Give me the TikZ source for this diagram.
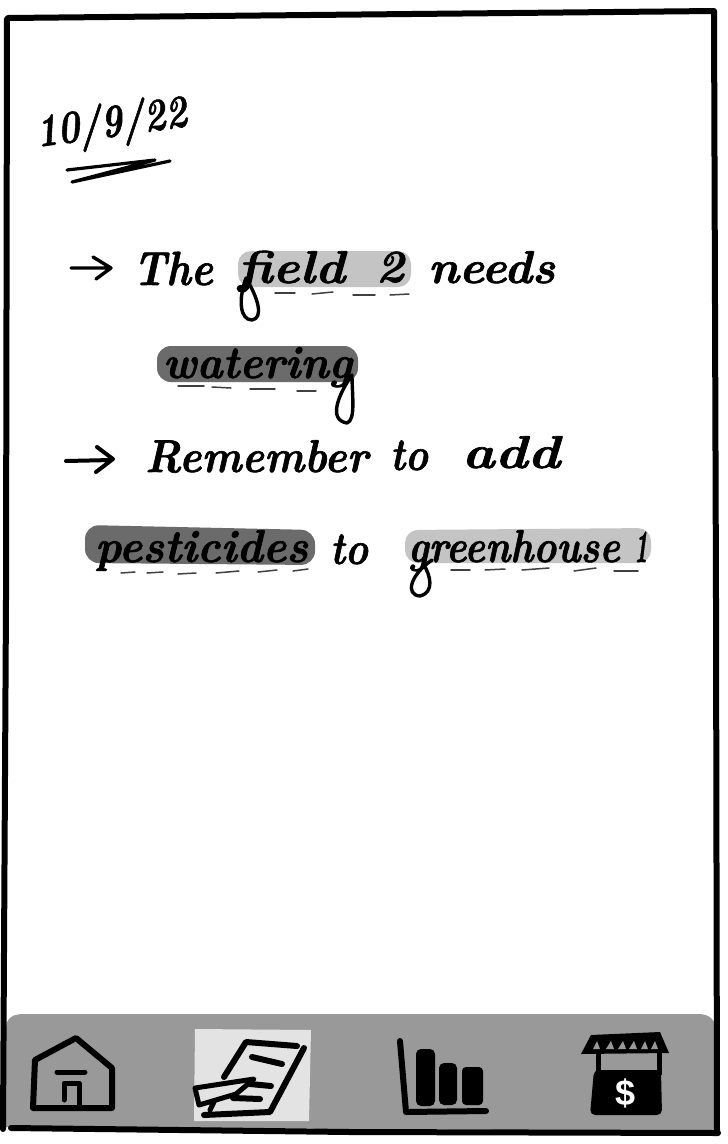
\documentclass[tikz,border=0pt]{standalone}
\usepackage{graphicx}
\usepackage{fontspec}
\newfontfamily\dollarfont{Liberation Sans}
\newsavebox\hwbox
\newcommand\hw[3]{\sbox\hwbox{\fontsize{10pt}{12pt}\selectfont\bfseries\itshape #3}\pgfmathsetmacro\hwr{#1/\the\wd\hwbox}\scalebox{\hwr}[#2]{\special{pdf:code 2 Tr 0.14 w 0 G}\usebox\hwbox\special{pdf:code 0 Tr 0.4 w}}}
\tikzset{
  x=1pt,y=-1pt,
  frameline/.style={line width=6pt,line cap=round,line join=round,black},
  pen/.style={line width=3.4pt,line cap=round,line join=round,black},
  thinpen/.style={line width=1.5pt,line cap=round,black!75},
  iconline/.style={line width=6pt,line cap=round,line join=round,black},
  word/.style={anchor=base west,inner sep=0pt,outer sep=0pt},
  lighthl/.style={fill=black!23,draw=none,rounded corners=13pt},
  darkhl/.style={fill=black!58,draw=none,rounded corners=14pt}
}
\begin{document}
\begin{tikzpicture}
\useasboundingbox (0,0) rectangle (728,1144);
\fill[white] (0,0) rectangle (728,1144);
% nav bar
\fill[black!40] (6,1030) .. controls (6,1018) and (12,1014) .. (24,1014) -- (698,1014) .. controls (710,1014) and (716,1020) .. (716,1032) -- (717,1131) -- (6,1127) -- cycle;
\fill[black!11] (195,1029) -- (311,1030) -- (309,1121) -- (194,1121) -- cycle;
% frame
\draw[frameline] (7,19) -- (6,600) -- (3,1129);
\draw[frameline] (8,18) -- (714,11) -- (716,600) -- (717,1133);
\draw[frameline] (11,1128) -- (350,1132) -- (718,1133);
% date
\node[word,rotate=8] (date) at (38,147) {\hw{152}{4.6}{10/9/22}};
\draw[pen,line width=3.2pt] (67,170) -- (155,160) -- (72,182) -- (170,161);
% highlights
\fill[lighthl] (238,251) rectangle (411,287);
\fill[darkhl] (157,346) rectangle (358,382);
\fill[darkhl] (85,525) -- (315,530) -- (315,565) -- (85,563) -- cycle;
\fill[lighthl] (405,530) -- (651,528) -- (651,563) -- (405,563) -- cycle;
% line 1
\draw[pen] (71,268) -- (111,268) (93,257) -- (111,268) -- (96,279);
\node[word] (the) at (133,285) {\hw{80}{4.8}{The}};
\node[word] (field) at (238,283) {\hw{107}{4.6}{field}};
\node[word] (two) at (376,282) {\hw{28}{4.6}{2}};
\node[word] (needs) at (428,283) {\hw{127}{4.6}{needs}};
\node[word] (watering) at (163,378) {\hw{189}{4.6}{watering}};
% line 2
\draw[pen,line width=4pt] (66,461) -- (112,460) (97,447) -- (113,459) -- (96,472);
\node[word] (remember) at (145,472) {\hw{223}{4.6}{Remember}};
\node[word] (to1) at (390,470) {\hw{38}{4.6}{to}};
\node[word] (add) at (462,468) {\hw{98}{4.6}{add}};
\node[word] (pesticides) at (95,562) {\hw{213}{4.6}{pesticides}};
\node[word] (to2) at (330,564) {\hw{38}{4.6}{to}};
\node[word] (greenhouse) at (408,562) {\hw{212}{4.6}{greenhouse}};
\node[word] (one) at (634,562) {\hw{14}{4.6}{1}};
% descender loops
\draw[pen] (246,278) .. controls (238,300) and (240,320) .. (252,320) .. controls (264,318) and (258,298) .. (246,278);
\draw[pen] (352,375) .. controls (338,395) and (328,420) .. (347,423) .. controls (356,420) and (352,395) .. (352,375);
\draw[pen] (432,560) .. controls (410,575) and (405,595) .. (420,596) .. controls (435,592) and (430,575) .. (424,565);
% dashes
\foreach \a/\b/\c/\d in {275/293/295/293,312/294/333/292,353/295/375/295,390/295/409/294,
  178/386/204/386,212/387/231/388,250/389/275/389,297/391/316/391,
  121/573/135/572,147/573/163/572,178/574/196/573,216/573/239/571,258/572/277/570,293/571/308/569,
  451/570/470/570,485/570/505/569,522/570/549/568,574/571/596/568,614/571/638/571}
  \draw[thinpen] (\a,\b) -- (\c,\d);
% home icon
\draw[iconline] (33,1108) -- (35,1060) -- (76,1038) -- (112,1068) -- (112,1108) -- cycle;
\draw[iconline,line width=5pt] (57,1072) -- (85,1072) (64,1100) -- (64,1083) -- (79,1083) -- (79,1105);
% notes icon
\draw[iconline] (224,1077) -- (246,1042) -- (297,1046) (304,1048) -- (270,1112) -- (204,1115);
\draw[iconline] (252,1057) -- (282,1064) (250,1084) -- (271,1086) (233,1098) -- (260,1099);
\draw[iconline,line width=5pt] (195,1088) -- (254,1079) -- (236,1094) -- (199,1105) -- cycle (210,1110) -- (214,1102);
% chart icon
\draw[iconline] (400,1041) -- (406,1112) -- (486,1111);
\fill[black,rounded corners=5pt] (416,1049) rectangle (435,1106);
\fill[black,rounded corners=5pt] (439,1063) rectangle (457,1105);
\fill[black,rounded corners=4pt] (462,1067) rectangle (483,1105);
% stall icon
\fill[black] (591,1035) -- (660,1032) -- (669,1053) -- (581,1054) -- cycle;
\foreach \a/\b in {592/597,605/611,617/623,628/634,640/645,650/655}
  \fill[black!40] (\a+1,1049) -- (\b,1041) -- (\b+3,1049) -- cycle;
\draw[black,line width=5pt] (598,1053) -- (598,1075) (659,1053) -- (659,1075);
\fill[black,rounded corners=5pt] (594,1070) -- (661,1070) -- (662,1115) -- (590,1115) -- cycle;
\node[inner sep=0pt,text=white] (dollar) at (626,1093) {\dollarfont\bfseries\fontsize{36pt}{36pt}\selectfont \$};
\end{tikzpicture}
\end{document}
